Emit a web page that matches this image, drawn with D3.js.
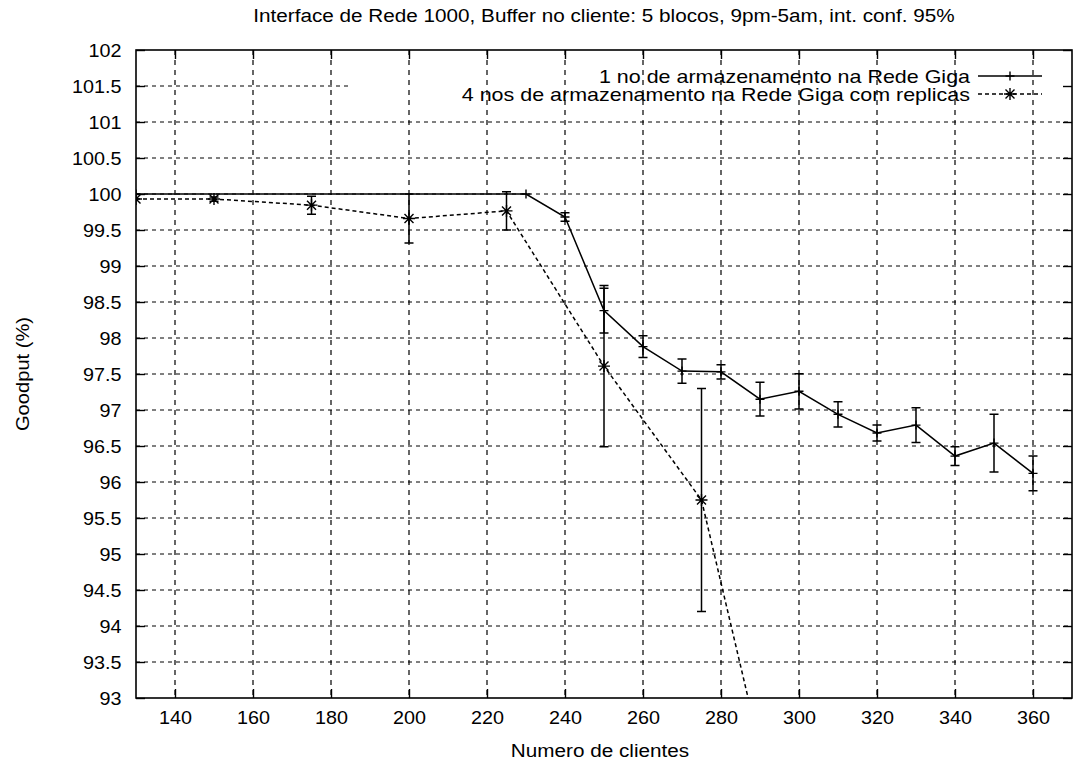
<!DOCTYPE html>
<html>
<head>
<meta charset="utf-8">
<script src="https://cdn.jsdelivr.net/npm/d3@7"></script>
<style>
  html, body { margin: 0; padding: 0; background: #fff; }
  svg { display: block; }
  text { font-family: "Liberation Sans", Arial, Helvetica, sans-serif; fill: #000; }
</style>
</head>
<body>
<svg id="chart" width="1075" height="763"></svg>
<script>
// Axis ticks
const xTickValues = [140, 160, 180, 200, 220, 240, 260, 280, 300, 320, 340, 360];
const yTickValues = [93, 93.5, 94, 94.5, 95, 95.5, 96, 96.5, 97, 97.5, 98, 98.5, 99, 99.5, 100, 100.5, 101, 101.5, 102];

// Series 1: one storage node on the Giga network (mean goodput, 95% CI half-width)
const clients1 = [130, 230, 240, 250, 260, 270, 280, 290, 300, 310, 320, 330, 340, 350, 360];
const goodput1 = [100, 100, 99.68, 98.38, 97.88, 97.54, 97.53, 97.15, 97.26, 96.94, 96.68, 96.79, 96.36, 96.54, 96.12];
const ci1      = [0, 0, 0.06, 0.31, 0.15, 0.17, 0.10, 0.235, 0.245, 0.175, 0.11, 0.24, 0.13, 0.40, 0.24];

// Series 2: four storage nodes with replicas
const clients2 = [130, 150, 175, 200, 225, 250, 275, 300];
const goodput2 = [99.93, 99.93, 99.845, 99.66, 99.765, 97.61, 95.75, 90.0];
const ci2      = [0, 0.03, 0.125, 0.34, 0.265, 1.12, 1.55, 0];

const seriesNames = [
  "1 no de armazenamento na Rede Giga",
  "4 nos de armazenamento na Rede Giga com replicas"
];
const titleText = "Interface de Rede 1000, Buffer no cliente: 5 blocos, 9pm-5am, int. conf. 95%";
const xLabel = "Numero de clientes";
const yLabel = "Goodput (%)";

const svg = d3.select("#chart");
const plot = { left: 136, right: 1072, top: 50, bottom: 698 };
const fontSize = 19;
// The lettering of this plot runs a little wide, so text is stretched horizontally.
const stretchTick = 1.04, stretchLabel = 1.09, stretchLegend = 1.13;

const x = d3.scaleLinear().domain([130, 370]).range([plot.left, plot.right]);
const y = d3.scaleLinear().domain([93, 102]).range([plot.bottom, plot.top]);

const mk = (xs, ys, es) => xs.map((c, i) => ({ x: c, y: ys[i], e: es[i] }));
const s1 = mk(clients1, goodput1, ci1);
const s2 = mk(clients2, goodput2, ci2);

// Key area: horizontal grid lines are blanked behind it
const keyBox = { left: 348, top: 66, right: plot.right, bottom: 104 };

const defs = svg.append("defs");
defs.append("clipPath").attr("id", "plotClip")
  .append("rect")
  .attr("x", plot.left).attr("y", plot.top)
  .attr("width", plot.right - plot.left).attr("height", plot.bottom - plot.top);
defs.append("clipPath").attr("id", "gridClip")
  .append("path").attr("clip-rule", "evenodd")
  .attr("d", `M${plot.left},${plot.top}H${plot.right}V${plot.bottom}H${plot.left}Z` +
             `M${keyBox.left},${keyBox.top}H${keyBox.right}V${keyBox.bottom}H${keyBox.left}Z`);

// Grid
const grid = svg.append("g").attr("stroke", "#000").attr("stroke-width", 1)
  .attr("stroke-dasharray", "4,4").attr("fill", "none");
grid.selectAll("line.gx").data(xTickValues).join("line").attr("class", "gx")
  .attr("stroke-dasharray", "5,5").attr("stroke-width", 1.2)
  .attr("x1", d => x(d)).attr("x2", d => x(d))
  .attr("y1", plot.top).attr("y2", plot.bottom);
grid.append("g").attr("clip-path", "url(#gridClip)")
  .selectAll("line.gy").data(yTickValues.filter(v => v > 93 && v < 102)).join("line").attr("class", "gy")
  .attr("x1", plot.left).attr("x2", plot.right)
  .attr("y1", d => y(d)).attr("y2", d => y(d));

// Axes with inward ticks, mirrored on all four sides
const tickLen = 9;
const axB = d3.axisBottom(x).tickValues(xTickValues).tickSize(-tickLen).tickPadding(13).tickFormat(d3.format("d"));
const axT = d3.axisTop(x).tickValues(xTickValues).tickSize(-tickLen).tickFormat("");
const axL = d3.axisLeft(y).tickValues(yTickValues).tickSize(-tickLen).tickPadding(14).tickFormat(d => String(d));
const axR = d3.axisRight(y).tickValues(yTickValues).tickSize(-tickLen).tickFormat("");

function styleAxis(g) {
  g.select(".domain").remove();
  g.selectAll(".tick line").attr("stroke", "#000").attr("stroke-width", 1.4);
  g.selectAll(".tick text").attr("font-size", fontSize).attr("font-family", null).attr("fill", "#000")
    .attr("transform", `scale(${stretchTick},1)`);
}
svg.append("g").attr("transform", `translate(0,${plot.bottom})`).call(axB).call(styleAxis);
svg.append("g").attr("transform", `translate(0,${plot.top})`).call(axT).call(styleAxis);
svg.append("g").attr("transform", `translate(${plot.left},0)`).call(axL).call(styleAxis);
svg.append("g").attr("transform", `translate(${plot.right},0)`).call(axR).call(styleAxis);

// Border
svg.append("rect")
  .attr("x", plot.left).attr("y", plot.top)
  .attr("width", plot.right - plot.left).attr("height", plot.bottom - plot.top)
  .attr("fill", "none").attr("stroke", "#000").attr("stroke-width", 1.6);

// Titles
function stretchedText(px, py, str, sx, anchor) {
  return svg.append("text")
    .attr("transform", `translate(${px},${py}) scale(${sx},1)`)
    .attr("text-anchor", anchor).attr("font-size", fontSize).text(str);
}
stretchedText(604, 22, titleText, stretchLabel, "middle");
stretchedText(600, 757, xLabel, stretchLabel, "middle");
svg.append("text").attr("transform", `translate(29,${(plot.top + plot.bottom) / 2}) rotate(-90) scale(1.06,1)`)
  .attr("text-anchor", "middle").attr("font-size", fontSize).text(yLabel);

// Markers
function plusPath(cx, cy, r) {
  return `M${cx - r},${cy}H${cx + r}M${cx},${cy - r}V${cy + r}`;
}
function starPath(cx, cy, r) {
  const k = r * 0.75;
  return plusPath(cx, cy, r) + `M${cx - k},${cy - k}L${cx + k},${cy + k}M${cx - k},${cy + k}L${cx + k},${cy - k}`;
}

const body = svg.append("g").attr("clip-path", "url(#plotClip)");
const line = d3.line().x(d => x(d.x)).y(d => y(d.y));
const capW = 4.5;

function drawSeries(data, dash, marker, r) {
  const g = body.append("g").attr("stroke", "#000").attr("fill", "none");
  g.append("path").datum(data).attr("d", line).attr("stroke-width", 1.5)
    .attr("stroke-dasharray", dash);
  const eb = data.filter(d => d.e > 0);
  g.selectAll("path.err").data(eb).join("path").attr("class", "err")
    .attr("stroke-width", 1.5)
    .attr("d", d => {
      const cx = x(d.x), y0 = y(d.y - d.e), y1 = y(d.y + d.e);
      return `M${cx},${y0}V${y1}M${cx - capW},${y0}H${cx + capW}M${cx - capW},${y1}H${cx + capW}`;
    });
  g.selectAll("path.mk").data(data).join("path").attr("class", "mk")
    .attr("stroke-width", 1.4)
    .attr("d", d => marker(x(d.x), y(d.y), r));
}
drawSeries(s1, null, plusPath, 4.5);
drawSeries(s2, "4,3", starPath, 6);

// Legend
const legend = svg.append("g");
const legRows = [
  { name: seriesNames[0], dash: null, marker: plusPath, r: 4.5, yc: 76 },
  { name: seriesNames[1], dash: "4,3", marker: starPath, r: 6, yc: 94 }
];
legRows.forEach(row => {
  legend.append("text")
    .attr("transform", `translate(970,${row.yc}) scale(${stretchLegend},1)`)
    .attr("dy", "0.35em")
    .attr("text-anchor", "end").attr("font-size", fontSize).text(row.name);
  legend.append("line").attr("x1", 978).attr("x2", 1042).attr("y1", row.yc).attr("y2", row.yc)
    .attr("stroke", "#000").attr("stroke-width", 1.5).attr("stroke-dasharray", row.dash);
  legend.append("path").attr("d", row.marker(1010, row.yc, row.r))
    .attr("stroke", "#000").attr("stroke-width", 1.4).attr("fill", "none");
});
</script>
</body>
</html>
